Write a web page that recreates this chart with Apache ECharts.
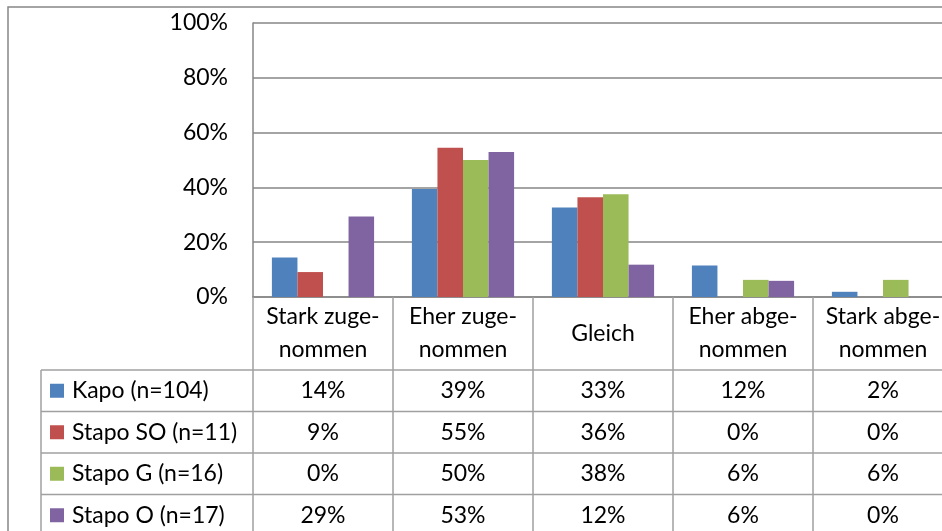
<!DOCTYPE html>
<html><head><meta charset="utf-8">
<script src="https://cdn.jsdelivr.net/npm/echarts@6/dist/echarts.min.js"></script>
<style>html,body{margin:0;padding:0;background:#fff}#c{width:942px;height:531px}</style>
</head><body><div id="c"></div>
<script>
// ---- data ----
const categories = ['Stark zuge-\nnommen', 'Eher zuge-\nnommen', 'Gleich', 'Eher abge-\nnommen', 'Stark abge-\nnommen'];
const seriesNames = ['Kapo (n=104)', 'Stapo SO (n=11)', 'Stapo G (n=16)', 'Stapo O (n=17)'];
const kapo    = [14.4, 39.4, 32.7, 11.5, 1.9];
const stapoSO = [9.1, 54.5, 36.4, 0, 0];
const stapoG  = [0, 50, 37.5, 6.25, 6.25];
const stapoO  = [29.4, 52.9, 11.8, 5.9, 0];
const yTicks  = [0, 20, 40, 60, 80, 100];

// ---- style / layout ----
const colors = ['#4F81BD', '#C0504D', '#9BBB59', '#8064A2'];
const FONT = 'Lato';
const FS = 23;
const lineCol = '#868686';
const tableCol = '#a0a0a0';
const gridLeft = 253, gridTop = 23, axisY = 297, W = 942, H = 531, gridW = 700;
const headerBottom = 370, rowH = 41.5, legendLeft = 41;

const rows = [kapo, stapoSO, stapoG, stapoO];
const txt = { fontFamily: FONT, fontSize: FS, color: '#000' };

const chart = echarts.init(document.getElementById('c'), null, { renderer: 'canvas' });

const xAxes = [{
  type: 'category', gridIndex: 0, position: 'bottom', data: categories,
  axisLine: { show: true, lineStyle: { color: lineCol, width: 1.5 } },
  axisTick: { show: true, alignWithLabel: false, length: H - axisY + 10, lineStyle: { color: tableCol, width: 1.5 } },
  axisLabel: Object.assign({ interval: 0, margin: (headerBottom - axisY) / 2, verticalAlign: 'middle', align: 'center', lineHeight: 33 }, txt),
  splitLine: { show: false }
}].concat(rows.map((r, i) => ({
  type: 'category', gridIndex: 0, position: 'bottom',
  offset: headerBottom + rowH * (i + 0.5) - axisY,
  data: r.map(v => Math.round(v) + '%'),
  axisLine: { show: false }, axisTick: { show: false }, splitLine: { show: false },
  axisLabel: Object.assign({ interval: 0, margin: 0, verticalAlign: 'middle', align: 'center' }, txt)
})));

const graphics = [
  { type: 'rect', silent: true, shape: { x: 8, y: 7, width: 1000, height: 700 }, style: { fill: 'none', stroke: lineCol, lineWidth: 1.5 } },
  { type: 'line', silent: true, shape: { x1: legendLeft, y1: headerBottom, x2: legendLeft, y2: H + 10 }, style: { stroke: tableCol, lineWidth: 1.5 } }
];
for (let i = 0; i < rows.length; i++) {
  const y = headerBottom + rowH * i;
  graphics.push({ type: 'line', silent: true, shape: { x1: legendLeft, y1: y, x2: W + 10, y2: y }, style: { stroke: tableCol, lineWidth: 1.5 } });
}

chart.setOption({
  animation: false,
  backgroundColor: '#fff',
  color: colors,
  grid: { left: gridLeft, top: gridTop, width: gridW, height: axisY - gridTop, containLabel: false, outerBoundsMode: 'none' },
  legend: {
    data: seriesNames, orient: 'vertical', left: 50, top: headerBottom + rowH / 2 - 12,
    padding: 0, itemGap: rowH - 24, itemWidth: 14, itemHeight: 14, icon: 'rect',
    selectedMode: false,
    textStyle: Object.assign({ lineHeight: 24, padding: [0, 0, 0, 3] }, txt)
  },
  xAxis: xAxes,
  yAxis: {
    type: 'value', min: yTicks[0], max: yTicks[yTicks.length - 1], interval: yTicks[1] - yTicks[0],
    axisLine: { show: true, lineStyle: { color: lineCol, width: 1.5 } },
    axisTick: { show: false },
    axisLabel: Object.assign({ margin: 25, formatter: '{value}%' }, txt),
    splitLine: { show: true, lineStyle: { color: lineCol, width: 1.5 } }
  },
  series: seriesNames.map((name, i) => ({
    name, type: 'bar', xAxisIndex: 0, data: rows[i],
    barGap: '0%', barCategoryGap: '27%',
    itemStyle: { color: colors[i] }
  })),
  graphic: graphics
});
</script>
</body></html>
